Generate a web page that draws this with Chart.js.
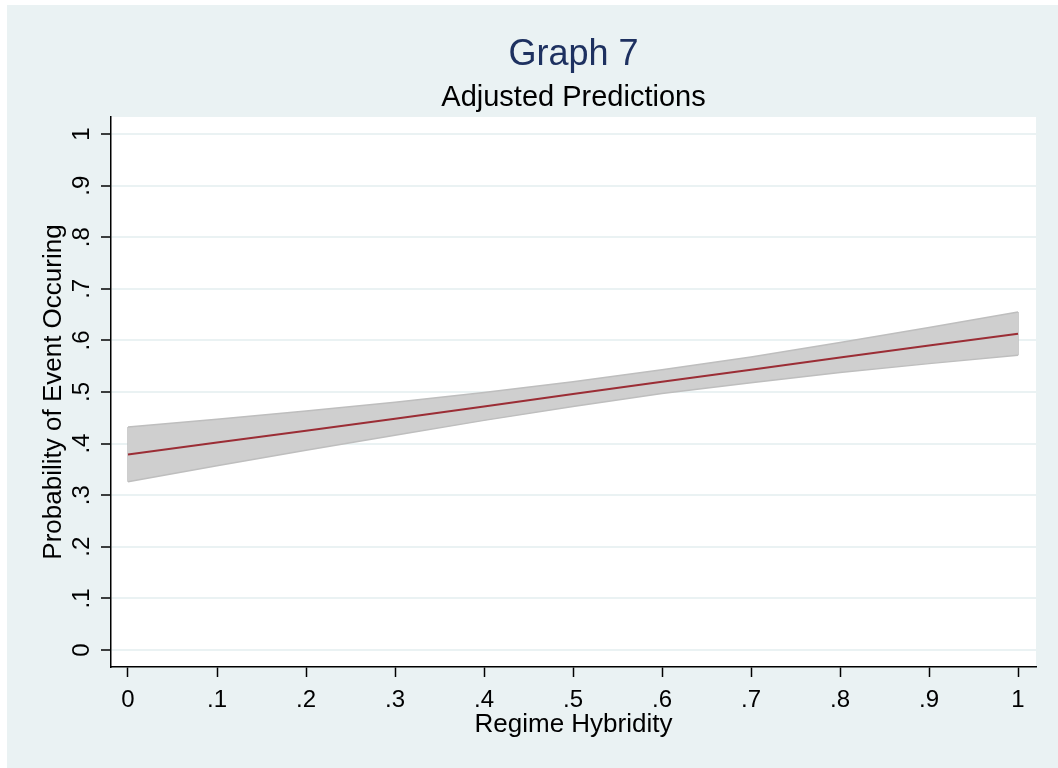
<!DOCTYPE html>
<html>
<head>
<meta charset="utf-8">
<script src="https://cdn.jsdelivr.net/npm/chart.js@4"></script>
<style>
    html, body { margin: 0; padding: 0; background: #ffffff; }
    #wrap { position: absolute; left: 7px; top: 5px; width: 1051px; height: 763px; background: #EAF2F3; }
    canvas { display: block; }
</style>
</head>
<body>
<div id="wrap"><canvas id="chart" width="1051" height="763"></canvas></div>
<script>
// Values
const hybridity = [0, 0.1, 0.2, 0.3, 0.4, 0.5, 0.6, 0.7, 0.8, 0.9, 1];
const predicted = [0.379, 0.402, 0.425, 0.448, 0.472, 0.496, 0.520, 0.543, 0.567, 0.590, 0.613];
const upperCI   = [0.432, 0.447, 0.463, 0.480, 0.499, 0.520, 0.543, 0.568, 0.596, 0.625, 0.655];
const lowerCI   = [0.326, 0.357, 0.387, 0.416, 0.445, 0.472, 0.497, 0.518, 0.538, 0.555, 0.571];

const xTicks = [0, 0.1, 0.2, 0.3, 0.4, 0.5, 0.6, 0.7, 0.8, 0.9, 1];
const xTickLabels = ['0', '.1', '.2', '.3', '.4', '.5', '.6', '.7', '.8', '.9', '1'];
const yTicks = [0, 0.1, 0.2, 0.3, 0.4, 0.5, 0.6, 0.7, 0.8, 0.9, 1];
const yTickLabels = ['0', '.1', '.2', '.3', '.4', '.5', '.6', '.7', '.8', '.9', '1'];

const FONT = '"Liberation Sans", Arial, Helvetica, sans-serif';
const BAND_FILL = '#CFCFCF';
const BAND_EDGE = '#BEBEBE';
const LINE_COLOR = '#9B2D35';

function points(ys) {
    return hybridity.map((x, i) => ({ x: x, y: ys[i] }));
}

// white plot region like Stata's
const plotRegion = {
    id: 'plotRegion',
    beforeDraw(chart) {
        const a = chart.chartArea;
        const ctx = chart.ctx;
        ctx.save();
        ctx.fillStyle = '#ffffff';
        ctx.fillRect(a.left, a.top, a.right - a.left, a.bottom - a.top);
        ctx.restore();
    }
};

const last = hybridity.length - 1;

new Chart(document.getElementById('chart'), {
    type: 'line',
    data: {
        datasets: [
            {
                label: 'Predicted',
                data: points(predicted),
                borderColor: LINE_COLOR,
                borderWidth: 2,
                pointRadius: 0,
                fill: false
            },
            {
                label: 'Upper',
                data: points(upperCI),
                borderColor: BAND_EDGE,
                borderWidth: 1.5,
                pointRadius: 0,
                fill: false
            },
            {
                label: 'Lower',
                data: points(lowerCI),
                borderColor: BAND_EDGE,
                backgroundColor: BAND_FILL,
                borderWidth: 1.5,
                pointRadius: 0,
                fill: '-1'
            },
            // closing edges of the band
            {
                label: 'Start edge',
                data: [{ x: hybridity[0], y: lowerCI[0] }, { x: hybridity[0], y: upperCI[0] }],
                borderColor: BAND_EDGE,
                borderWidth: 1.5,
                pointRadius: 0,
                fill: false
            },
            {
                label: 'End edge',
                data: [{ x: hybridity[last], y: lowerCI[last] }, { x: hybridity[last], y: upperCI[last] }],
                borderColor: BAND_EDGE,
                borderWidth: 1.5,
                pointRadius: 0,
                fill: false
            }
        ]
    },
    options: {
        responsive: false,
        animation: false,
        layout: { padding: { left: 0, right: 22, top: 0, bottom: 0 } },
        plugins: {
            legend: { display: false },
            tooltip: { enabled: false },
            title: {
                display: true,
                fullSize: false,
                text: 'Graph 7',
                color: '#1E3160',
                font: { family: FONT, size: 36, weight: 'normal' },
                padding: { top: 28, bottom: 0 }
            },
            subtitle: {
                display: true,
                fullSize: false,
                text: 'Adjusted Predictions',
                color: '#000000',
                font: { family: FONT, size: 29, weight: 'normal' },
                padding: { top: 4, bottom: 2 }
            }
        },
        scales: {
            x: {
                type: 'linear',
                min: -0.0191,
                max: 1.0202,
                afterBuildTicks: scale => { scale.ticks = xTicks.map(v => ({ value: v })); },
                afterFit: scale => { scale.height = 101; },
                ticks: {
                    color: '#000',
                    font: { family: FONT, size: 24 },
                    padding: 9,
                    maxRotation: 0,
                    callback: (v, i) => xTickLabels[i]
                },
                grid: {
                    drawOnChartArea: false,
                    tickColor: '#000',
                    tickLength: 10,
                    tickWidth: 1.5
                },
                border: { color: '#000', width: 1.5 },
                title: {
                    display: true,
                    text: 'Regime Hybridity',
                    color: '#000',
                    font: { family: FONT, size: 26 },
                    padding: { top: 0, bottom: 28 }
                }
            },
            y: {
                type: 'linear',
                min: -0.033,
                max: 1.033,
                afterBuildTicks: scale => { scale.ticks = yTicks.map(v => ({ value: v })); },
                afterFit: scale => { scale.width = 104; },
                ticks: {
                    color: '#000',
                    font: { family: FONT, size: 24 },
                    padding: 9,
                    minRotation: 90,
                    maxRotation: 90,
                    crossAlign: 'center',
                    callback: (v, i) => yTickLabels[i]
                },
                grid: {
                    color: '#EAF2F3',
                    lineWidth: 2,
                    tickColor: '#000',
                    tickLength: 10,
                    tickWidth: 1.5
                },
                border: { color: '#000', width: 1.5 },
                title: {
                    display: true,
                    text: 'Probability of Event Occuring',
                    color: '#000',
                    font: { family: FONT, size: 26 },
                    padding: { top: 31, bottom: 0 }
                }
            }
        }
    },
    plugins: [plotRegion]
});
</script>
</body>
</html>
